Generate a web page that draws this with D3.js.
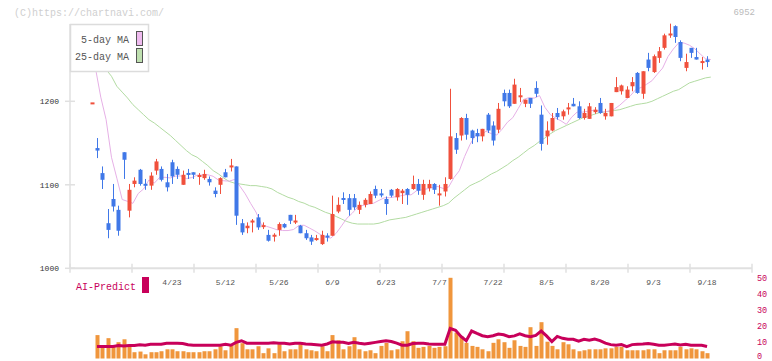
<!DOCTYPE html>
<html><head><meta charset="utf-8">
<script src="https://cdn.jsdelivr.net/npm/d3@7"></script>
<style>
body{margin:0;background:#fff}
svg{display:block}
text{font-family:"Liberation Mono","DejaVu Sans Mono",monospace}
</style>
</head><body>
<svg id="chart" width="772" height="361"></svg>
<script>
// ---------- data ----------
const dates = ["4/2","4/3","4/4","4/7","4/8","4/9","4/10","4/11","4/14","4/15","4/16","4/17","4/18","4/21","4/22","4/23","4/24","4/25","4/28","4/30",
"5/1","5/2","5/7","5/8","5/9","5/12","5/13","5/14","5/15","5/16","5/19","5/20","5/21","5/22","5/23","5/26","5/27","5/28","5/29","5/30",
"6/2","6/3","6/4","6/5","6/6","6/9","6/10","6/11","6/12","6/13","6/16","6/17","6/18","6/19","6/20","6/23","6/24","6/25","6/26","6/27","6/30",
"7/1","7/2","7/3","7/4","7/7","7/8","7/9","7/10","7/11","7/14","7/15","7/16","7/17","7/18","7/22","7/23","7/24","7/25","7/28","7/29","7/30","7/31",
"8/1","8/4","8/5","8/6","8/7","8/8","8/12","8/13","8/14","8/15","8/18","8/19","8/20","8/21","8/22","8/25","8/26","8/27","8/28","8/29",
"9/1","9/2","9/3","9/4","9/5","9/8","9/9","9/10","9/11","9/12","9/16","9/17","9/18"];

const open  = [1197,1144,1114,1054,1083,1070,1139,1069,1101,1118,1101,1099,1117,1119,1103,1127,1119,1100,1114,1115,
1110,1108,1107,1093,1100,1115,1121,1122,1054,1048,1055,1061,1050,1040,1038,1046,1053,1064,1055,1051,
1042,1037,1034,1029,1039,1039,1068,1084,1084,1084,1070,1076,1077,1095,1089,1083,1094,1085,1090,1095,1095,
1101,1088,1096,1101,1088,1092,1107,1156,1159,1180,1165,1162,1158,1184,1171,1166,1210,1210,1197,1205,1197,1204,
1216,1184,1158,1165,1186,1182,1191,1197,1194,1180,1179,1187,1198,1182,1182,1211,1212,1204,1218,1234,
1209,1250,1235,1252,1264,1279,1290,1271,1240,1264,1253,1246,1250];
const high  = [1198,1156,1122,1071,1101,1075,1139,1101,1109,1119,1107,1115,1131,1122,1113,1130,1122,1117,1119,1115,
1114,1118,1110,1097,1109,1119,1131,1122,1059,1055,1059,1065,1055,1046,1042,1055,1054,1064,1064,1052,
1046,1040,1040,1045,1042,1087,1085,1091,1089,1089,1080,1084,1092,1099,1095,1086,1095,1096,1095,1096,1111,
1107,1106,1106,1102,1100,1109,1215,1162,1181,1185,1166,1167,1167,1186,1176,1198,1214,1214,1227,1216,1202,1204,
1224,1195,1176,1186,1192,1190,1198,1204,1200,1191,1198,1193,1204,1191,1198,1229,1220,1218,1229,1235,
1236,1258,1256,1265,1281,1293,1291,1273,1257,1264,1264,1253,1254];
const low   = [1197,1132,1095,1036,1068,1039,1107,1061,1097,1099,1094,1094,1112,1104,1092,1101,1107,1100,1107,1107,
1100,1106,1099,1085,1089,1109,1116,1052,1040,1042,1043,1046,1047,1032,1032,1039,1048,1053,1053,1042,
1034,1028,1033,1028,1032,1039,1066,1077,1063,1070,1065,1073,1077,1084,1085,1064,1085,1081,1077,1076,1094,
1088,1082,1092,1089,1075,1086,1106,1137,1153,1154,1149,1151,1152,1162,1147,1162,1194,1192,1197,1199,1193,1192,
1205,1141,1148,1164,1178,1178,1184,1194,1179,1178,1179,1185,1185,1178,1182,1211,1208,1204,1212,1209,
1203,1236,1234,1246,1262,1276,1270,1248,1236,1252,1250,1238,1241];
const close = [1198,1141,1106,1046,1074,1045,1130,1094,1105,1101,1099,1111,1128,1106,1097,1110,1112,1112,1112,1112,
1111,1113,1103,1089,1108,1109,1123,1063,1043,1051,1057,1049,1051,1033,1040,1053,1049,1057,1057,1042,
1036,1032,1036,1040,1037,1065,1076,1082,1070,1073,1076,1082,1089,1087,1088,1077,1087,1095,1093,1088,1101,
1093,1101,1101,1094,1089,1101,1158,1142,1180,1160,1156,1158,1167,1165,1153,1191,1200,1194,1220,1207,1202,1197,
1209,1149,1165,1180,1181,1188,1192,1194,1180,1186,1194,1190,1186,1186,1198,1217,1219,1214,1223,1210,
1236,1240,1254,1260,1279,1281,1277,1252,1247,1258,1250,1248,1247];

const ma5 = [1240,1205,1178,1133,1108,1082.4,1080.2,1077.8,1089.6,1095,1105.8,1102,1108.8,1109,1108.2,1110.4,1110.6,1107.4,1108.6,1111.6,
1111.8,1112,1110.2,1105.6,1104.8,1104.4,1106.4,1098.4,1089.2,1077.8,1067.4,1052.6,1050.2,1048.2,1046,1045.2,1045.2,1046.4,1051.2,1051.6,
1048.2,1044.8,1040.6,1037.2,1036.2,1042,1050.8,1060,1066,1073.2,1075.4,1076.6,1078,1081.4,1084.4,1084.6,1085.6,1086.8,1088,1088,
1092.8,1094,1095.2,1096.8,1098,1095.6,1097.2,1108.6,1116.8,1134,1148.2,1159.2,1159.2,1164.2,1161.2,1159.6,1166.6,1175,1180.4,1191.2,
1202.2,1204.4,1203.8,1206.8,1192.8,1184.2,1179.8,1176.6,1172.4,1181,1187,1187,1188,1189.2,1188.8,1187.2,1188.4,1190.8,1195.4,1201.2,
1206.8,1214.2,1216.6,1220.4,1224.6,1232.4,1239.8,1253.6,1262.6,1270,1269.8,1267.2,1263,1256.8,1251,1250];
const ma25 = [1254,1246,1238,1230,1218,1211,1204,1196,1190,1184,1178,1174,1169,1164,1159,1153,1147,1141,1136,1133,
1128,1123,1117,1113,1108,1104,1102,1101,1100,1099,1099,1098,1097,1095,1091,1088,1085,1083,1080,1078,
1075,1073,1070,1067,1065,1062,1059,1056,1054,1053,1053,1053,1053,1054,1056,1058,1059,1060,1061,1063,
1065,1067,1069,1071,1073,1075,1078,1084,1089,1094,1099,1102,1105,1109,1113,1116,1120,1124,1129,1133,
1138,1143,1147,1152,1156,1161,1165,1168,1171,1174,1177,1180,1182,1184,1186,1187,1188,1189,1190,1192,
1194,1196,1197,1198,1200,1203,1206,1209,1212,1214,1218,1222,1224,1226,1228,1229];

const volume = [null,14.5,7.8,12.6,7.8,10.1,11.9,8.0,3.9,4.3,2.6,3.9,3.9,4.5,5.7,5.7,4.5,4.5,3.9,3.9,
3.9,4.5,4.5,5.7,7.6,5.1,8.8,18.8,9.5,5.7,5.7,7.6,3.3,6.3,3.3,8.8,4.5,5.7,5.7,8.8,
5.7,5.1,4.5,7.6,4.5,14.5,11.3,5.7,7.6,13.2,5.7,4.5,5.1,3.3,7.8,9.6,5.1,5.7,10.7,16.9,
10.7,6.6,7.2,7.8,6.6,7.2,7.6,50,16,13.8,9.7,7.8,7.2,5.7,4.5,9.7,11.9,10.1,6.6,11.3,
7.8,7.2,19.4,7.8,22.5,10.4,7.8,5.7,10.1,8.8,5.7,4.5,5.1,5.7,5.7,5.7,6.3,6.3,7.2,7.2,
5.1,5.1,5.1,5.1,5.7,5.7,3.3,5.1,5.1,5.1,7.2,5.7,6.3,5.7,4.5,3.3];
const aiPredict = [null,7.4,7.4,7.4,7.5,8.0,7.7,8.0,8.0,8.5,8.2,8.8,8.8,8.8,9.5,9.5,9.5,9.3,8.5,8.2,
8.2,8.2,8.2,8.2,8.2,8.8,8.2,10.0,11.0,9.5,9.5,9.5,9.5,9.5,9.7,9.5,9.5,9.0,9.5,9.5,
9.0,8.8,8.5,8.2,9.0,10.3,10.1,10.1,9.3,10.1,9.5,9.0,9.5,10.0,10.5,11.0,10.5,9.5,8.2,8.2,
9.3,9.5,9.5,9.0,8.8,8.8,8.8,18.6,17.5,13.7,11.0,17.0,15.5,14.1,13.5,14.1,15.1,14.7,13.5,14.0,
15.3,14.1,13.5,14.3,17.0,14.0,10.5,13.7,12.5,11.9,11.9,10.7,11.9,11.3,12.1,11.1,9.5,8.6,8.2,8.6,
7.4,8.6,8.8,9.0,9.3,8.8,8.2,8.2,8.6,9.0,8.4,8.8,8.2,8.2,8.2,7.4];

const xLabels = ["4/23","5/12","5/26","6/9","6/23","7/7","7/22","8/5","8/20","9/3","9/18"];
const priceTicks = [1000,1100,1200];
const volTicks = [0,10,20,30,40,50];
const legendItems = [{label:"5-day MA", key:"ma5"},{label:"25-day MA", key:"ma25"}];

// ---------- style ----------
const C = {
  up:"#f0503c", down:"#4078e8", ma5:"#e6b0e6", ma25:"#b2dba2",
  sw5:"#efbbef", sw25:"#bfe0b0", axis:"#e0e0e0", vol:"#f0963c", ai:"#c8005a"
};

const svg = d3.select("#chart");
svg.append("rect").attr("width",772).attr("height",361).attr("fill","#fff");

const idx = d3.range(dates.length);
const x  = d3.scaleLinear().domain([-4.05,123.4]).range([70,752]);
const y  = d3.scaleLinear().domain([1000,1300]).range([268.3,17.8]);
const yv = d3.scaleLinear().domain([0,50]).range([358.5,277.8]);
const maShift = 0.7;
const [xl,xr] = x.range();

// clip
svg.append("clipPath").attr("id","plot").append("rect")
  .attr("x",xl).attr("y",y.range()[1]).attr("width",xr-xl).attr("height",y.range()[0]-y.range()[1]);

// axis lines
svg.append("line").attr("x1",xl).attr("x2",xl).attr("y1",24).attr("y2",y(1000))
  .attr("stroke",C.axis).attr("stroke-width",1.5);
svg.append("line").attr("x1",xl).attr("x2",xr).attr("y1",y(1000)).attr("y2",y(1000))
  .attr("stroke",C.axis).attr("stroke-width",2);
const nTick = 11;
svg.append("g").selectAll("line").data(d3.range(nTick+1)).join("line")
  .attr("x1",k=>xl+k*(xr-xl)/nTick).attr("x2",k=>xl+k*(xr-xl)/nTick)
  .attr("y1",y(1000)-4.5).attr("y2",y(1000)+4.5)
  .attr("stroke",C.axis).attr("stroke-width",1.5);

// y axis ticks + labels
svg.append("g").selectAll("line").data(priceTicks).join("line")
  .attr("x1",xl-5).attr("x2",xl+5).attr("y1",d=>y(d)).attr("y2",d=>y(d))
  .attr("stroke",C.axis).attr("stroke-width",1.5);
const yAxis = svg.append("g").attr("transform",`translate(${xl},0)`)
  .call(d3.axisLeft(y).tickValues(priceTicks).tickSize(0).tickPadding(11).tickFormat(d3.format("d")));
yAxis.select(".domain").remove();
yAxis.selectAll("text").attr("font-size",8).attr("fill","#333")
  .attr("font-family","'Liberation Mono','DejaVu Sans Mono',monospace");

// MA lines
const g = svg.append("g").attr("clip-path","url(#plot)");
const lineMA = arr => d3.line().x((d,i)=>x(i+maShift)).y(d=>y(d))(arr);
g.append("path").attr("d",lineMA(ma25)).attr("fill","none").attr("stroke",C.ma25).attr("stroke-width",1);
g.append("path").attr("d",lineMA(ma5)).attr("fill","none").attr("stroke",C.ma5).attr("stroke-width",1);

// candles
const candles = g.append("g").selectAll("g").data(idx).join("g");
candles.append("line")
  .attr("x1",i=>Math.round(x(i))+0.5).attr("x2",i=>Math.round(x(i))+0.5)
  .attr("y1",i=>y(high[i])).attr("y2",i=>y(low[i]))
  .attr("stroke",i=>close[i]>=open[i]?C.up:C.down).attr("stroke-width",1);
candles.append("rect")
  .attr("x",i=>Math.round(x(i))-1.5).attr("width",4)
  .attr("y",i=>{const t=y(Math.max(open[i],close[i])), b=y(Math.min(open[i],close[i])); return b-t<2?(t+b)/2-1:t;})
  .attr("height",i=>Math.max(2,y(Math.min(open[i],close[i]))-y(Math.max(open[i],close[i]))))
  .attr("fill",i=>close[i]>=open[i]?C.up:C.down);

// legend
const lg = svg.append("g");
lg.append("rect").attr("x",70.5).attr("y",24.5).attr("width",78).attr("height",47)
  .attr("fill","#fff").attr("stroke","#dcdcdc").attr("stroke-width",1.5);
legendItems.forEach((it,k)=>{
  lg.append("text").attr("x",129).attr("y",43+k*17).attr("text-anchor","end")
    .attr("font-size",10).attr("fill","#555").text(it.label);
  lg.append("rect").attr("x",136.5).attr("y",31.5+k*17).attr("width",6).attr("height",14)
    .attr("fill",k===0?C.sw5:C.sw25).attr("stroke","#555").attr("stroke-width",1);
});

// watermark + code
svg.append("text").attr("x",14).attr("y",16).attr("font-size",10).attr("fill","#cfcfcf").text("(C)https://chartnavi.com/");
svg.append("text").attr("x",755).attr("y",15).attr("text-anchor","end").attr("font-size",9).attr("fill","#bbb").text("6952");

// x labels
svg.append("g").selectAll("text").data(xLabels).join("text")
  .attr("x",d=>x(dates.indexOf(d))).attr("y",285).attr("text-anchor","middle")
  .attr("font-size",8).attr("fill","#555").text(d=>d);

// bottom panel
svg.append("g").selectAll("rect").data(idx.filter(i=>volume[i]!=null)).join("rect")
  .attr("x",i=>Math.round(x(i))-1.5).attr("width",4)
  .attr("y",i=>yv(volume[i])).attr("height",i=>yv(0)-yv(volume[i]))
  .attr("fill",C.vol);
svg.append("path")
  .attr("d",d3.line().defined(d=>d!=null).x((d,i)=>x(i)).y(d=>yv(d))(aiPredict))
  .attr("fill","none").attr("stroke",C.ai).attr("stroke-width",3);

svg.append("g").selectAll("text").data(volTicks).join("text")
  .attr("x",757).attr("y",d=>Math.min(yv(d)+3,358.5)).attr("font-size",8.5).attr("fill",C.ai).text(d=>d);

svg.append("text").attr("x",76).attr("y",290).attr("font-size",10).attr("fill",C.ai).text("AI-Predict");
svg.append("rect").attr("x",142).attr("y",277).attr("width",7).attr("height",16).attr("fill",C.ai);
</script>
</body></html>
